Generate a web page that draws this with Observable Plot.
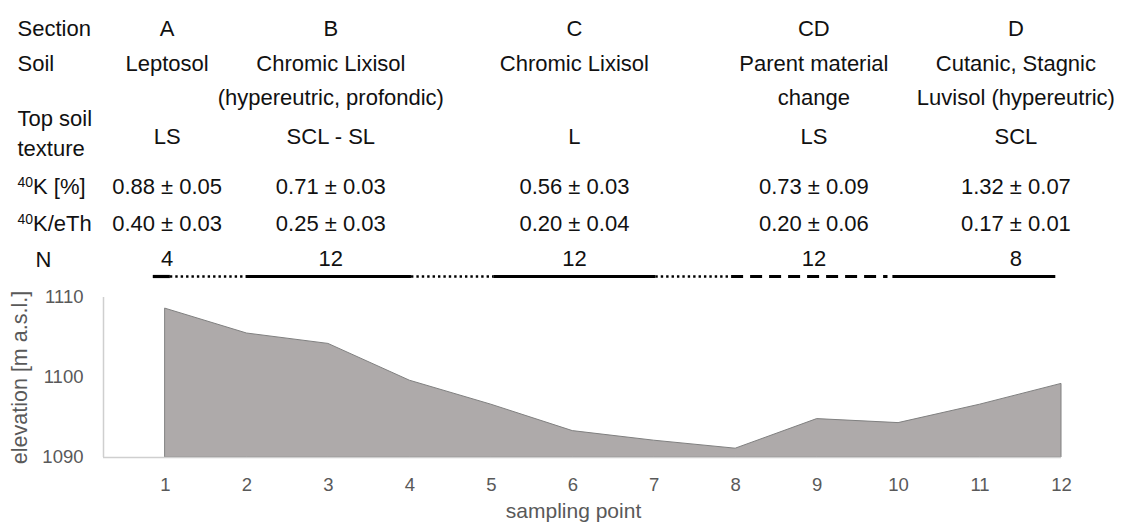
<!DOCTYPE html>
<html>
<head>
<meta charset="utf-8">
<script src="https://cdn.jsdelivr.net/npm/d3@7"></script>
<script src="https://cdn.jsdelivr.net/npm/@observablehq/plot@0.6"></script>
<style>
  html, body { margin: 0; padding: 0; background: #fff; }
  #chart svg { display: block; }
</style>
</head>
<body>
<div id="chart"></div>
<script>
// ---- data ----
const points = [1, 2, 3, 4, 5, 6, 7, 8, 9, 10, 11, 12];
const elevation = [1108.6, 1105.5, 1104.2, 1099.6, 1096.6, 1093.3, 1092.1, 1091.1, 1094.8, 1094.3, 1096.6, 1099.2];
const yTicks = [1090, 1100, 1110];

const sections = ["A", "B", "C", "CD", "D"];
const sectionCenter = [1.02, 3.03, 6.02, 8.96, 11.44];
const soilLine1 = ["Leptosol", "Chromic Lixisol", "Chromic Lixisol", "Parent material", "Cutanic, Stagnic"];
const soilLine2 = ["", "(hypereutric, profondic)", "", "change", "Luvisol (hypereutric)"];
const texture = ["LS", "SCL - SL", "L", "LS", "SCL"];
const k40 = ["0.88 ± 0.05", "0.71 ± 0.03", "0.56 ± 0.03", "0.73 ± 0.09", "1.32 ± 0.07"];
const k40eTh = ["0.40 ± 0.03", "0.25 ± 0.03", "0.20 ± 0.04", "0.20 ± 0.06", "0.17 ± 0.01"];
const nSamples = ["4", "12", "12", "12", "8"];

// N-row segments (sampling-point units) and their line style
const segStart = [0.85, 1.06, 1.99, 4.02, 5.03, 7.02, 7.95, 9.93];
const segEnd   = [1.06, 1.99, 4.02, 5.03, 7.02, 7.95, 9.87, 11.93];
const segStyle = ["solid", "dotted", "solid", "dotted", "solid", "dotted", "dashed", "solid"];

// ---- build tables ----
const series = points.map((p, i) => ({point: p, elev: elevation[i]}));
const segs = segStart.map((s, i) => ({x1: s, x2: segEnd[i], style: segStyle[i]}));
const cols = (arr) => sectionCenter.map((c, i) => ({x: c, t: arr[i]}));

const frameTop = 297;
const frameLeft = 103;
const headFont = 22;
const ink = "#111";
const axisInk = "#595959";

function row(arr, yCenter) {
  return Plot.text(cols(arr), {x: "x", text: "t", frameAnchor: "top", dy: yCenter - frameTop,
    lineAnchor: "middle", fontSize: headFont, fill: ink, textAnchor: "middle"});
}
function rowLabel(label, yCenter, xLeft, anchor = "start") {
  return Plot.text([label], {text: d => d, frameAnchor: "top-left", dx: xLeft - frameLeft, dy: yCenter - frameTop,
    lineAnchor: "middle", fontSize: headFont, fill: ink, textAnchor: anchor});
}
function segMark(style, opts) {
  return Plot.ruleY(segs.filter(s => s.style === style), {x1: "x1", x2: "x2", y: () => 1110, dy: 276 - frameTop,
    stroke: "#000", ...opts});
}

const plot = Plot.plot({
  width: 1128,
  height: 526,
  marginLeft: frameLeft,
  marginRight: 67,
  marginTop: frameTop,
  marginBottom: 69,
  style: {fontFamily: "'Liberation Sans', Arial, sans-serif", background: "#fff", overflow: "visible"},
  x: {domain: [0.239, 12], axis: null},
  y: {domain: [1090, 1110], axis: null},
  marks: [
    Plot.areaY(series, {x: "point", y1: 1090, y2: "elev", fill: "#aeaaaa", stroke: "#808080", strokeWidth: 1}),
    Plot.ruleY([1090], {x1: 0.239, x2: 12, stroke: "#cfcfcf", strokeWidth: 1.5}),
    Plot.ruleX([0.239], {y1: 1090, y2: 1110, stroke: "#cfcfcf", strokeWidth: 1.5}),
    // tick labels
    Plot.text(points, {x: d => d, text: d => String(d), frameAnchor: "bottom", dy: 28, lineAnchor: "middle",
      fontSize: 18.5, fill: axisInk}),
    Plot.text(yTicks, {y: d => d, text: d => String(d), frameAnchor: "left", dx: -20, textAnchor: "end",
      lineAnchor: "middle", fontSize: 18.5, fill: axisInk}),
    // axis titles
    Plot.text(["elevation [m a.s.l.]"], {text: d => d, frameAnchor: "left", dx: 20 - frameLeft, rotate: -90,
      textAnchor: "middle", lineAnchor: "middle", fontSize: 21.5, fill: axisInk}),
    Plot.text(["sampling point"], {text: d => d, frameAnchor: "bottom", dx: -9, dy: 54, textAnchor: "middle",
      lineAnchor: "middle", fontSize: 21, fill: axisInk}),
    // header table
    rowLabel("Section", 28, 17), row(sections, 28),
    rowLabel("Soil", 63, 17), row(soilLine1, 63), row(soilLine2, 97),
    rowLabel("Top soil", 118, 17), rowLabel("texture", 148, 17), row(texture, 136),
    rowLabel("40K [%]", 186, 17), row(k40, 186),
    rowLabel("40K/eTh", 223, 17), row(k40eTh, 223),
    rowLabel("N", 259, 43, "middle"), row(nSamples, 258),
    segMark("solid", {strokeWidth: 3.2}),
    segMark("dotted", {strokeWidth: 2.4, strokeDasharray: "2.4,3"}),
    segMark("dashed", {strokeWidth: 3.2, strokeDasharray: "12,7"})
  ]
});

// superscript mass number in "40K" labels
plot.querySelectorAll("text").forEach(t => {
  if (t.textContent.startsWith("40K")) {
    const rest = t.textContent.slice(2);
    t.textContent = "";
    const ns = "http://www.w3.org/2000/svg";
    const sup = document.createElementNS(ns, "tspan");
    sup.setAttribute("font-size", "14");
    sup.setAttribute("dy", "-7");
    sup.textContent = "40";
    const main = document.createElementNS(ns, "tspan");
    main.setAttribute("dy", "7");
    main.textContent = rest;
    t.appendChild(sup);
    t.appendChild(main);
  }
});

document.getElementById("chart").appendChild(plot);
</script>
</body>
</html>
